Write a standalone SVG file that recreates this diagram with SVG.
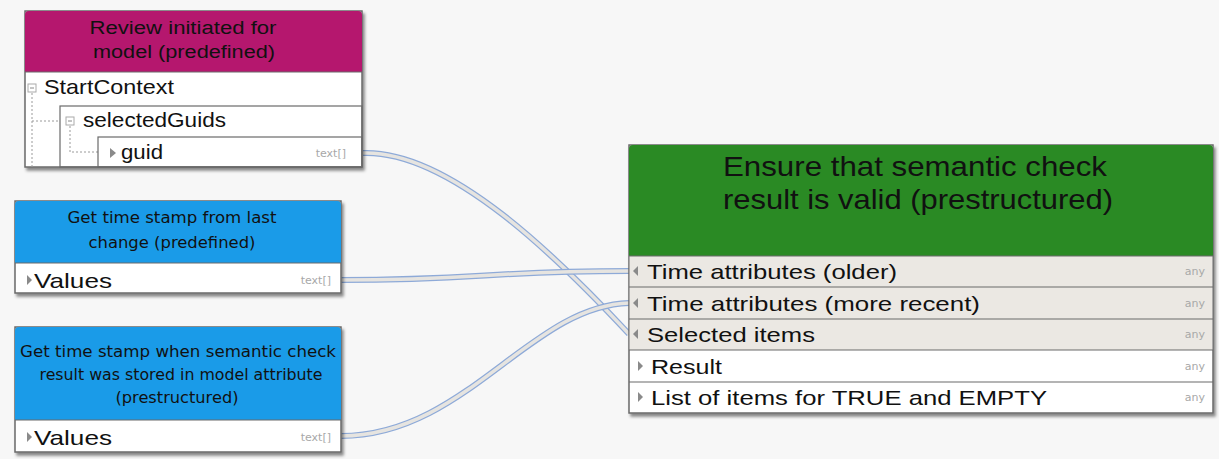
<svg xmlns="http://www.w3.org/2000/svg" width="1219" height="459" viewBox="0 0 1219 459">
<defs>
<filter id="sh" x="-5%" y="-5%" width="112%" height="120%">
<feDropShadow dx="2" dy="3" stdDeviation="1.5" flood-color="#000" flood-opacity="0.45"/>
</filter>
<style>
.box{fill:#fff;stroke:#6a6a6a;stroke-width:1.5}
.ln{stroke:#6a6a6a;stroke-width:1.2;fill:none}
.in{fill:#ebe8e3}
.hd{font-family:"Liberation Sans",Arial,sans-serif;fill:#111;text-anchor:middle}
.hv{font-family:"DejaVu Sans",Verdana,sans-serif;fill:#111;text-anchor:middle;font-size:15px}
.rw{font-family:"Liberation Sans",Arial,sans-serif;fill:#111;font-size:21px}
.ty{font-family:"DejaVu Sans",Verdana,sans-serif;fill:#a8a8a8;font-size:11px;text-anchor:end}
.tri{fill:#8a8a8a}
.dot{stroke:#9a9a9a;stroke-width:1;stroke-dasharray:2 2;fill:none}
.tubeo{fill:none;stroke:#8eaad8;stroke-width:6}
.tubei{fill:none;stroke:#e6e4e0;stroke-width:3.5}
</style>
</defs>
<rect width="1219" height="459" fill="#f7f7f7"/>

<g id="connectors">
<path class="tubeo" d="M363,153 C450,150 560,260 629,334"/>
<path class="tubei" d="M363,153 C450,150 560,260 629,334"/>
<path class="tubeo" d="M341,280 C480,280 490,271 629,271"/>
<path class="tubei" d="M341,280 C480,280 490,271 629,271"/>
<path class="tubeo" d="M341,436 C465,436 530,306 629,303"/>
<path class="tubei" d="M341,436 C465,436 530,306 629,303"/>
</g>

<g id="node-review">
<rect class="box" x="25" y="11" width="337" height="156" filter="url(#sh)"/>
<path d="M25,72 V15 Q25,11 29,11 H358 Q362,11 362,15 V72 Z" fill="#b5176e"/>
<line class="ln" x1="25" y1="72" x2="362" y2="72"/>
<text class="hd" x="183" y="34" font-size="18" textLength="187" lengthAdjust="spacingAndGlyphs">Review initiated for</text>
<text class="hd" x="184" y="58" font-size="18" textLength="182" lengthAdjust="spacingAndGlyphs">model (predefined)</text>
<rect x="28" y="84" width="8" height="8" fill="#fff" stroke="#aaa" stroke-width="1"/>
<line x1="30" y1="88" x2="34" y2="88" stroke="#888"/>
<text class="rw" x="44" y="94" font-size="19" textLength="130" lengthAdjust="spacingAndGlyphs">StartContext</text>
<path class="dot" d="M32,93 V167 M32,121 H60"/>
<rect x="60" y="106" width="302" height="61" fill="none" stroke="#6a6a6a" stroke-width="1.2"/>
<rect x="66" y="117" width="8" height="8" fill="#fff" stroke="#aaa" stroke-width="1"/>
<line x1="68" y1="121" x2="72" y2="121" stroke="#888"/>
<text class="rw" x="83" y="127" font-size="19" textLength="143" lengthAdjust="spacingAndGlyphs">selectedGuids</text>
<path class="dot" d="M70,126 V152 H98"/>
<rect x="98" y="137" width="264" height="30" fill="none" stroke="#6a6a6a" stroke-width="1.2"/>
<path class="tri" d="M110,148 L116,153 L110,158 Z"/>
<text class="rw" x="121" y="159" font-size="19" textLength="42" lengthAdjust="spacingAndGlyphs">guid</text>
<text class="ty" x="346" y="157">text[]</text>
</g>

<g id="node-lastchange">
<rect class="box" x="15" y="201" width="326" height="92" filter="url(#sh)"/>
<path d="M15,263 V205 Q15,201 19,201 H337 Q341,201 341,205 V263 Z" fill="#1a9be8"/>
<line class="ln" x1="15" y1="263" x2="341" y2="263"/>
<text class="hv" x="172" y="223" textLength="209" lengthAdjust="spacingAndGlyphs">Get time stamp from last</text>
<text class="hv" x="172" y="248" textLength="167" lengthAdjust="spacingAndGlyphs">change (predefined)</text>
<path class="tri" d="M27,275 L32,280 L27,285 Z"/>
<text class="rw" x="34" y="288" font-size="22" textLength="78" lengthAdjust="spacingAndGlyphs">Values</text>
<text class="ty" x="331" y="284">text[]</text>
</g>

<g id="node-semanticstamp">
<rect class="box" x="15" y="327" width="326" height="125" filter="url(#sh)"/>
<path d="M15,420 V331 Q15,327 19,327 H337 Q341,327 341,331 V420 Z" fill="#1a9be8"/>
<line class="ln" x1="15" y1="420" x2="341" y2="420"/>
<text class="hv" x="178" y="357" textLength="316" lengthAdjust="spacingAndGlyphs">Get time stamp when semantic check</text>
<text class="hv" x="181" y="380" textLength="283" lengthAdjust="spacingAndGlyphs">result was stored in model attribute</text>
<text class="hv" x="177" y="403" textLength="123" lengthAdjust="spacingAndGlyphs">(prestructured)</text>
<path class="tri" d="M27,432 L32,437 L27,442 Z"/>
<text class="rw" x="34" y="445" font-size="22" textLength="78" lengthAdjust="spacingAndGlyphs">Values</text>
<text class="ty" x="331" y="441">text[]</text>
</g>

<g id="node-ensure">
<rect class="box" x="629" y="145" width="584" height="268" filter="url(#sh)"/>
<path d="M629,256 V149 Q629,145 633,145 H1209 Q1213,145 1213,149 V256 Z" fill="#2a8a24"/>
<rect class="in" x="629.7" y="256" width="582.6" height="94"/>
<path class="ln" d="M629,256 H1213 M629,287 H1213 M629,319 H1213 M629,350 H1213 M629,382 H1213"/>
<text class="hd" x="915" y="176" font-size="28" textLength="384" lengthAdjust="spacingAndGlyphs">Ensure that semantic check</text>
<text class="hd" x="918" y="209" font-size="28" textLength="390" lengthAdjust="spacingAndGlyphs">result is valid (prestructured)</text>
<path class="tri" d="M638,266 L633,271 L638,276 Z"/>
<text class="rw" x="647" y="279" textLength="250" lengthAdjust="spacingAndGlyphs">Time attributes (older)</text>
<path class="tri" d="M638,298 L633,303 L638,308 Z"/>
<text class="rw" x="647" y="311" textLength="333" lengthAdjust="spacingAndGlyphs">Time attributes (more recent)</text>
<path class="tri" d="M638,329 L633,334 L638,339 Z"/>
<text class="rw" x="647" y="342" textLength="168" lengthAdjust="spacingAndGlyphs">Selected items</text>
<path class="tri" d="M638,361 L643,366 L638,371 Z"/>
<text class="rw" x="651" y="374" textLength="71" lengthAdjust="spacingAndGlyphs">Result</text>
<path class="tri" d="M638,392 L643,397 L638,402 Z"/>
<text class="rw" x="651" y="405" textLength="396" lengthAdjust="spacingAndGlyphs">List of items for TRUE and EMPTY</text>
<text class="ty" x="1205" y="275">any</text>
<text class="ty" x="1205" y="307">any</text>
<text class="ty" x="1205" y="338">any</text>
<text class="ty" x="1205" y="370">any</text>
<text class="ty" x="1205" y="401">any</text>
</g>
</svg>
